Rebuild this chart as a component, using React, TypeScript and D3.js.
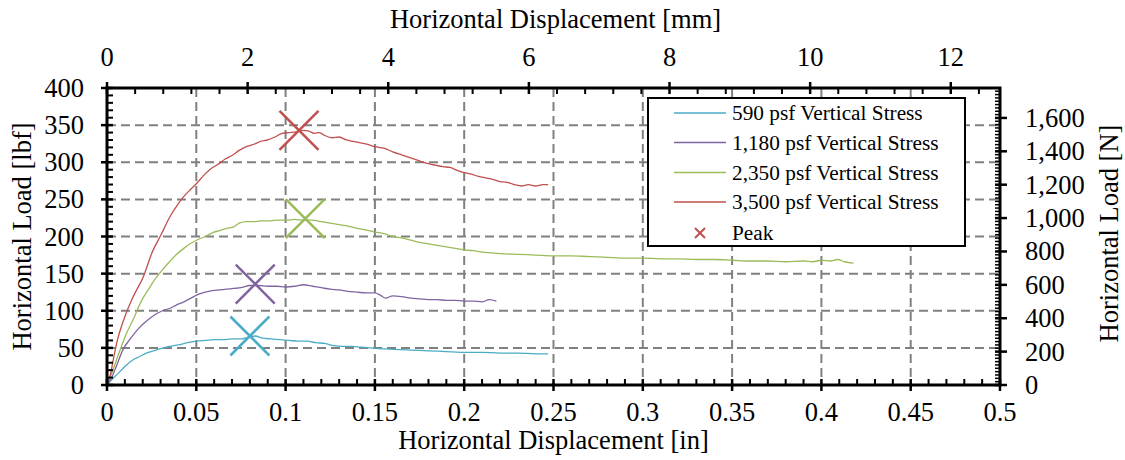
import React, { useEffect, useRef } from "react";
import * as D3 from "d3";

// measured load vs displacement, [in, lbf]
const S590 = [
	[0, 0], [0.003, 8], [0.006, 15], [0.01, 25], [0.014, 33], [0.018, 38], [0.022, 43], [0.026, 46],
	[0.03, 49], [0.035, 52], [0.04, 54], [0.045, 57], [0.05, 59], [0.055, 60], [0.06, 61], [0.065, 61],
	[0.07, 62], [0.075, 62], [0.08, 65], [0.083, 66], [0.087, 63], [0.092, 62], [0.097, 61], [0.102, 60],
	[0.107, 59], [0.112, 59], [0.117, 57], [0.122, 56], [0.127, 53], [0.132, 52], [0.137, 52], [0.142, 51],
	[0.147, 50], [0.152, 49], [0.16, 48], [0.17, 47], [0.18, 46], [0.19, 45], [0.2, 44], [0.21, 44],
	[0.22, 43], [0.23, 43], [0.24, 42], [0.247, 42]
];
const S1180 = [
	[0, 0], [0.003, 12], [0.006, 30], [0.009, 48], [0.013, 62], [0.018, 77], [0.023, 88], [0.027, 95],
	[0.031, 100], [0.035, 103], [0.039, 108], [0.043, 112], [0.047, 117], [0.051, 122], [0.055, 125],
	[0.059, 127], [0.063, 128], [0.067, 129], [0.071, 130], [0.075, 131], [0.08, 134], [0.085, 134],
	[0.09, 133], [0.095, 133], [0.1, 132], [0.105, 133], [0.11, 135], [0.115, 133], [0.12, 131], [0.125, 129],
	[0.13, 128], [0.135, 126], [0.14, 125], [0.145, 124], [0.15, 124], [0.153, 121], [0.156, 117], [0.16, 120],
	[0.165, 119], [0.17, 117], [0.175, 116], [0.18, 115], [0.185, 115], [0.19, 114], [0.195, 114], [0.2, 113],
	[0.205, 113], [0.21, 112], [0.214, 115], [0.218, 113]
];
const S2350 = [
	[0, 0], [0.003, 18], [0.007, 45], [0.011, 70], [0.015, 90], [0.019, 112], [0.023, 128], [0.027, 143],
	[0.031, 155], [0.035, 166], [0.039, 176], [0.043, 184], [0.047, 191], [0.051, 196], [0.055, 200],
	[0.059, 205], [0.063, 208], [0.067, 211], [0.071, 213], [0.074, 218], [0.078, 220], [0.082, 220],
	[0.086, 221], [0.09, 221], [0.095, 222], [0.1, 222], [0.105, 223], [0.11, 222], [0.115, 222], [0.12, 220],
	[0.125, 218], [0.13, 216], [0.135, 214], [0.14, 211], [0.145, 209], [0.15, 206], [0.155, 204], [0.16, 200],
	[0.165, 198], [0.17, 195], [0.175, 192], [0.18, 190], [0.185, 188], [0.19, 186], [0.195, 184], [0.2, 182],
	[0.205, 181], [0.21, 179], [0.215, 178], [0.22, 177], [0.23, 176], [0.24, 175], [0.25, 174], [0.26, 174],
	[0.27, 173], [0.28, 172], [0.29, 171], [0.3, 171], [0.31, 170], [0.32, 170], [0.33, 169], [0.34, 169],
	[0.35, 168], [0.36, 167], [0.37, 167], [0.38, 166], [0.39, 167], [0.395, 166], [0.4, 168], [0.405, 167],
	[0.409, 169], [0.413, 166], [0.418, 164]
];
const S3500 = [
	[0, 0], [0.002, 15], [0.0035, 34], [0.006, 62], [0.01, 92], [0.0147, 119], [0.0204, 146], [0.025, 177],
	[0.0306, 204], [0.0353, 227], [0.039, 241], [0.0427, 253], [0.047, 264],
	[0.05, 271], [0.054, 282], [0.058, 291], [0.062, 297], [0.066, 304], [0.07, 309], [0.074, 316],
	[0.078, 321], [0.082, 324], [0.086, 328], [0.09, 330], [0.094, 334], [0.098, 339], [0.102, 340],
	[0.106, 341], [0.11, 343], [0.113, 342], [0.116, 339], [0.119, 340], [0.122, 336], [0.126, 333],
	[0.13, 334], [0.134, 330], [0.138, 328], [0.142, 326], [0.146, 324], [0.15, 321], [0.155, 319],
	[0.16, 314], [0.165, 310], [0.17, 306], [0.175, 302], [0.18, 298], [0.184, 296], [0.188, 294],
	[0.192, 293], [0.196, 289], [0.2, 286], [0.204, 284], [0.208, 281], [0.212, 279], [0.216, 277],
	[0.22, 274], [0.224, 273], [0.228, 270], [0.232, 268], [0.236, 270], [0.24, 268], [0.244, 270], [0.247, 270]
];

const SERIES_NAMES = [
	"590 psf Vertical Stress",
	"1,180 psf Vertical Stress",
	"2,350 psf Vertical Stress",
	"3,500 psf Vertical Stress"
];
const SERIES_DATA = [S590, S1180, S2350, S3500];
const COLORS = ["#4BACC6", "#8064A2", "#9BBB59", "#C0504D"];
// peak points [in, lbf]
const PEAKS = [
	[0.08, 66],
	[0.083, 136],
	[0.111, 224],
	[0.1075, 343]
];

const W = 1125;
const H = 460;
const LEFT = 107;
const RIGHT = 1000;
const TOP = 88;
const BOTTOM = 385;
const FONT = "Liberation Serif";

export default function App() {
	const ref = useRef<SVGSVGElement>(null);

	useEffect(() => {
		const svg = D3.select(ref.current);
		svg.selectAll("*").remove();

		const x = D3.scaleLinear().domain([0, 0.5]).range([LEFT, RIGHT]);
		const y = D3.scaleLinear().domain([0, 400]).range([BOTTOM, TOP]);
		const xmm = D3.scaleLinear().domain([0, 12.7]).range([LEFT, RIGHT]);
		const yN = D3.scaleLinear().domain([0, 400 * 4.44822]).range([BOTTOM, TOP]);

		const xMajor = D3.range(0, 11).map((i) => i * 0.05);
		const yMajor = D3.range(0, 9).map((i) => i * 50);

		// grid
		const grid = svg.append("g").attr("stroke", "#808080").attr("stroke-width", 2).attr("stroke-dasharray", "9,5");
		grid
			.selectAll("line.v")
			.data(xMajor.slice(1, -1))
			.enter()
			.append("line")
			.attr("x1", (d) => x(d))
			.attr("x2", (d) => x(d))
			.attr("y1", TOP)
			.attr("y2", BOTTOM);
		grid
			.selectAll("line.h")
			.data(yMajor.slice(1, -1))
			.enter()
			.append("line")
			.attr("x1", LEFT)
			.attr("x2", RIGHT)
			.attr("y1", (d) => y(d))
			.attr("y2", (d) => y(d));

		// series
		const line = D3.line<number[]>()
			.x((d) => x(d[0]))
			.y((d) => y(d[1]))
			.curve(D3.curveMonotoneX);
		svg
			.append("g")
			.selectAll("path")
			.data(SERIES_DATA)
			.enter()
			.append("path")
			.attr("d", (d) => line(d))
			.attr("fill", "none")
			.attr("stroke", (d, i) => COLORS[i])
			.attr("stroke-width", 1.3);

		// peak markers
		const R = 19.5;
		const peaks = svg.append("g").attr("stroke-width", 2.5);
		PEAKS.forEach((p, i) => {
			const cx = x(p[0]);
			const cy = y(p[1]);
			peaks
				.append("path")
				.attr("d", `M${cx - R},${cy - R}L${cx + R},${cy + R}M${cx - R},${cy + R}L${cx + R},${cy - R}`)
				.attr("stroke", COLORS[i])
				.attr("fill", "none");
		});

		// frame and ticks
		const axes = svg.append("g").attr("stroke", "#000");
		axes
			.append("rect")
			.attr("x", LEFT)
			.attr("y", TOP)
			.attr("width", RIGHT - LEFT)
			.attr("height", BOTTOM - TOP)
			.attr("fill", "none")
			.attr("stroke-width", 3);

		const tick = (x1: number, y1: number, x2: number, y2: number, w: number) =>
			axes.append("line").attr("x1", x1).attr("y1", y1).attr("x2", x2).attr("y2", y2).attr("stroke-width", w);

		// bottom (in)
		D3.range(0, 51).forEach((i) => {
			const px = x(i * 0.01);
			if (i % 5 === 0) tick(px, BOTTOM - 6, px, BOTTOM + 6, 2.5);
			else tick(px, BOTTOM - 6, px, BOTTOM, 2);
		});
		// top (mm)
		D3.range(0, 32).forEach((i) => {
			const px = xmm(i * 0.4);
			if (px > RIGHT + 0.5) return;
			if (i % 5 === 0) tick(px, TOP - 6, px, TOP + 6, 2.5);
			else tick(px, TOP, px, TOP + 6, 2);
		});
		// left (lbf)
		D3.range(0, 41).forEach((i) => {
			const py = y(i * 10);
			if (i % 5 === 0) tick(LEFT - 6, py, LEFT + 6, py, 2.5);
			else tick(LEFT, py, LEFT + 6, py, 2);
		});
		// right (N)
		D3.range(0, 89).forEach((i) => {
			const py = yN(i * 20);
			if (py < TOP - 0.5) return;
			if (i % 10 === 0) tick(RIGHT - 5, py, RIGHT + 7, py, 2.5);
			else tick(RIGHT - 5, py, RIGHT, py, 1.5);
		});

		// labels
		const text = svg.append("g").attr("font-family", FONT).attr("font-size", 26.5).attr("fill", "#000");
		const fmtIn = (d: number) => String(+d.toFixed(2));
		xMajor.forEach((d) => {
			text.append("text").attr("x", x(d)).attr("y", 421).attr("text-anchor", "middle").text(fmtIn(d));
		});
		D3.range(0, 7).forEach((i) => {
			text
				.append("text")
				.attr("x", xmm(i * 2))
				.attr("y", 66)
				.attr("text-anchor", "middle")
				.text(String(i * 2));
		});
		yMajor.forEach((d) => {
			text
				.append("text")
				.attr("x", 84)
				.attr("y", y(d) + 9)
				.attr("text-anchor", "end")
				.text(String(d));
		});
		const fmtN = D3.format(",");
		D3.range(0, 9).forEach((i) => {
			text
				.append("text")
				.attr("x", 1025)
				.attr("y", yN(i * 200) + 9)
				.attr("text-anchor", "start")
				.text(fmtN(i * 200));
		});

		const mid = (LEFT + RIGHT) / 2;
		const midY = (TOP + BOTTOM) / 2;
		text.append("text").attr("x", mid).attr("y", 449).attr("text-anchor", "middle").text("Horizontal Displacement [in]");
		text.append("text").attr("x", mid + 2).attr("y", 28).attr("text-anchor", "middle").text("Horizontal Displacement [mm]");
		text
			.append("text")
			.attr("transform", `translate(31,${midY}) rotate(-90)`)
			.attr("text-anchor", "middle")
			.text("Horizontal Load [lbf]");
		text
			.append("text")
			.attr("transform", `translate(1118,${midY - 3}) rotate(-90)`)
			.attr("text-anchor", "middle")
			.text("Horizontal Load [N]");

		// legend
		const lg = svg.append("g").attr("font-family", FONT).attr("font-size", 21.3);
		lg.append("rect")
			.attr("x", 648)
			.attr("y", 98)
			.attr("width", 317)
			.attr("height", 148)
			.attr("fill", "#fff")
			.attr("stroke", "#000")
			.attr("stroke-width", 2);
		const rowY = [113, 142.5, 172.5, 202, 233];
		SERIES_NAMES.forEach((name, i) => {
			lg.append("line")
				.attr("x1", 674)
				.attr("x2", 726)
				.attr("y1", rowY[i])
				.attr("y2", rowY[i])
				.attr("stroke", COLORS[i])
				.attr("stroke-width", 1.5);
			lg.append("text").attr("x", 732).attr("y", rowY[i] + 7).text(name);
		});
		const m = 5;
		lg.append("path")
			.attr("d", `M${700 - m},${233 - m}L${700 + m},${233 + m}M${700 - m},${233 + m}L${700 + m},${233 - m}`)
			.attr("stroke", "#C0504D")
			.attr("stroke-width", 2);
		lg.append("text").attr("x", 732).attr("y", 233 + 7).text("Peak");
	}, []);

	return (
		<svg
			ref={ref}
			width={W}
			height={H}
			style={{ position: "absolute", left: 0, top: 0, background: "#fff" }}
		></svg>
	);
}
